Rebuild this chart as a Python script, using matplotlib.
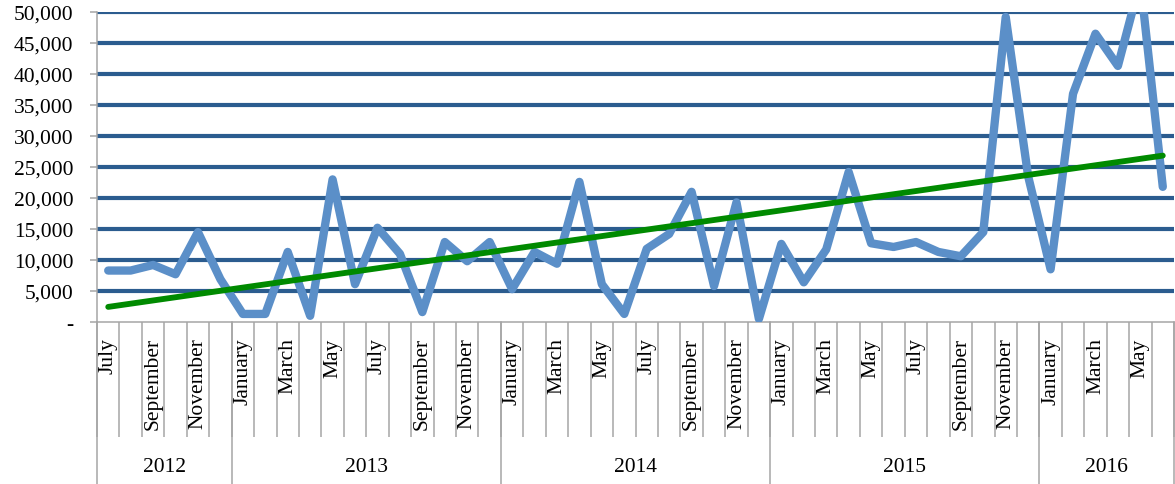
import numpy as np
import matplotlib
matplotlib.use("Agg")
import matplotlib.pyplot as plt
import matplotlib.transforms as mtransforms

plt.rcParams['font.family'] = ['Liberation Serif', 'DejaVu Serif']

# monthly values, July 2012 - June 2016
months = ["July", "August", "September", "October", "November", "December",
          "January", "February", "March", "April", "May", "June",
          "July", "August", "September", "October", "November", "December",
          "January", "February", "March", "April", "May", "June",
          "July", "August", "September", "October", "November", "December",
          "January", "February", "March", "April", "May", "June",
          "July", "August", "September", "October", "November", "December",
          "January", "February", "March", "April", "May", "June"]
values = [8300, 8300, 9200, 7700, 14500, 6900,
          1300, 1300, 11300, 1000, 23000, 6100,
          15200, 11000, 1600, 12900, 9800, 12900,
          5300, 11300, 9400, 22600, 6100, 1300,
          11800, 14200, 21000, 5800, 19300, 500,
          12600, 6400, 11700, 24200, 12700, 12100,
          12900, 11300, 10600, 14500, 49200, 23500,
          8500, 36800, 46500, 41300, 55000, 21800]
years = ["2012", "2013", "2014", "2015", "2016"]
year_months = [6, 12, 12, 12, 6]
y_ticks = list(range(0, 50001, 5000))

grey = "#A6A6A6"
grid_blue = "#2B5C8F"
line_blue = "#5B8FC8"
trend_green = "#008A00"

fig = plt.figure(figsize=(11.75, 4.85), dpi=100)
ax = fig.add_axes([97 / 1175, 162 / 485, 1077 / 1175, 310 / 485])

x = np.arange(len(values)) + 0.5

# gridlines (not at zero)
for yv in y_ticks[1:]:
    ax.axhline(yv, color=grid_blue, lw=3, zorder=1)

ax.plot(x, values, color=line_blue, lw=6, solid_joinstyle="round",
        solid_capstyle="round", zorder=3)

# linear trend
coef = np.polyfit(x, values, 1)
ax.plot(x, np.polyval(coef, x), color=trend_green, lw=4.2,
        solid_capstyle="round", zorder=4)

ax.set_xlim(0, len(values))
ax.set_ylim(0, 50000)

ax.set_yticks(y_ticks)
ax.set_yticklabels(["-" if v == 0 else f"{v:,}" for v in y_ticks], fontsize=15.5)
ax.tick_params(axis="y", direction="out", length=5, width=1.1, color=grey, pad=12)

# month labels on every other month
ax.set_xticks(x)
ax.set_xticklabels([m if i % 2 == 0 else "" for i, m in enumerate(months)],
                   rotation=90, fontsize=15.5)
ax.tick_params(axis="x", which="major", length=0, pad=11)
ax.set_xticks(np.arange(len(values) + 1), minor=True)
ax.tick_params(axis="x", which="minor", direction="out", length=83,
               width=1.1, color=grey)

for side in ["top", "right"]:
    ax.spines[side].set_visible(False)
for side in ["left", "bottom"]:
    ax.spines[side].set_color(grey)
    ax.spines[side].set_linewidth(1.1)

# year groups below the months
trans = mtransforms.blended_transform_factory(ax.transData, ax.transAxes)
start = 0
for yr, n in zip(years, year_months):
    ax.plot([start, start], [0, -0.53], transform=trans, color=grey,
            lw=1.1, clip_on=False)
    ax.text(start + n / 2, -0.465, yr, transform=trans, ha="center",
            va="center", fontsize=15.5)
    start += n
ax.plot([start, start], [0, -0.53], transform=trans, color=grey,
        lw=1.1, clip_on=False)

fig.savefig("out.png", dpi=100)
